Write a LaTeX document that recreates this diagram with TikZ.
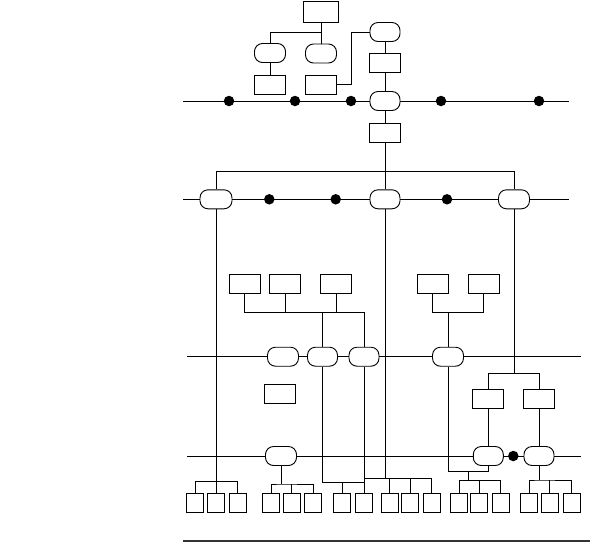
\documentclass[tikz,border=0pt]{standalone}
\usepackage{tikz}

\begin{document}
\begin{tikzpicture}[
  x=1pt, y=-1pt,
  every path/.style={line width=0.9pt},
  box/.style={draw, fill=white, minimum width=31pt, minimum height=19pt, inner sep=0pt},
  pill/.style={draw, fill=white, rounded corners=8pt, minimum width=31pt, minimum height=19pt, inner sep=0pt},
  leaf/.style={draw, fill=white, minimum width=17pt, minimum height=19pt, inner sep=0pt},
  dot/.style={circle, fill=black, inner sep=0pt, minimum size=10.5pt}
]
\useasboundingbox (0,0) rectangle (590,542);

% top part
\node[box, minimum width=35pt, minimum height=21pt] (top) at (321,11.5) {};
\node[pill] (p1) at (270,53) {};
\node[pill] (p2) at (321,53.5) {};
\node[box] (b1) at (270,84.7) {};
\node[box] (b2) at (321,84.5) {};
\node[pill, minimum width=30pt] (p3) at (385,32) {};
\node[box] (b3) at (385,63) {};

\coordinate (j0) at (321,32);
\coordinate (k0) at (351,32);
\draw (top) -- (p2);
\draw (j0) -| (p1.north);
\draw (p1) -- (b1);
\draw (b2.east) -| (k0) -- (p3.west);
\draw (p3) -- (b3);

% first bus
\coordinate (w1) at (183.3,101);
\coordinate (e1) at (569.3,101);
\node[pill, minimum width=30pt] (g1) at (385,101) {};
\node[box] (b4) at (385,133) {};
\draw (w1) -- (g1) -- (e1);
\draw (b3) -- (g1);
\draw (g1) -- (b4);
\foreach \x in {229,295,351,441,539}
  \node[dot] at (\x,101) {};

% second bus
\coordinate (w2) at (183.3,199.3);
\coordinate (e2) at (569.3,199.3);
\node[pill, minimum width=32pt] (h1) at (216,199.3) {};
\node[pill, minimum width=30pt] (h2) at (385,199.3) {};
\node[pill] (h3) at (514,199.3) {};
\draw (w2) -- (h1) -- (h2) -- (h3) -- (e2);
\foreach \x in {269.3,335.7,447}
  \node[dot] at (\x,199.3) {};

\coordinate (j2) at (385,171);
\draw (b4) -- (h2);
\draw (h1.north) -- (h1.north |- j2) -| (h3.north);

% middle boxes
\node[box] (m1) at (244.5,284) {};
\node[box] (m2) at (285,284) {};
\node[box] (m3) at (336,284) {};
\node[box] (m4) at (432.7,284) {};
\node[box] (m5) at (483.5,284) {};

% third bus
\coordinate (w3) at (187.3,356.7);
\coordinate (e3) at (580.7,356.7);
\node[pill] (k1) at (283,356.7) {};
\node[pill, minimum width=30pt] (k2) at (322.5,356.7) {};
\node[pill, minimum width=30pt] (k3) at (364,356.7) {};
\node[pill] (k4) at (448,356.7) {};
\draw (w3) -- (k1) -- (k2) -- (k3) -- (k4) -- (e3);

\coordinate (jm) at (364,312.3);
\coordinate (jn) at (448,312.3);
\draw (m1.south) |- (jm) -- (k3.north);
\draw (m2.south) -- (m2.south |- jm);
\draw (m3.south) -- (m3.south |- jm);
\draw (k2.north |- jm) -- (k2.north);
\draw (m4.south) |- (m5.south |- jn) -- (m5.south);
\draw (jn) -- (k4.north);

\node[box] (iso) at (280,393.5) {};

% right branch
\node[box] (r1) at (488.3,398.7) {};
\node[box] (r2) at (539,398.7) {};
\coordinate (jr) at (514,373.3);
\draw (h3.south) -- (jr);
\draw (r1.north) |- (jr) -| (r2.north);

% fourth bus
\coordinate (w4) at (187.3,456);
\coordinate (e4) at (580.7,456);
\node[pill] (q0) at (281,456) {};
\node[pill, minimum width=30pt] (q1) at (488.3,456) {};
\node[pill, minimum width=30pt] (q2) at (539,456) {};
\draw (w4) -- (q0) -- (q1) -- (q2) -- (e4);
\node[dot] at (513.3,456) {};
\draw (r1) -- (q1);
\draw (r2) -- (q2);

% leaves
\foreach \x [count=\i] in {195.3,216,237.7,271.3,291.8,313.3,342.3,364,389.8,410,431.8,459.2,479.2,500.7,529.3,549.7,571.5}
  \node[leaf] (lf\i) at (\x,503) {};

\coordinate (c1) at (216,481.7);
\coordinate (c2) at (281,484);
\coordinate (c3) at (364,482.7);
\coordinate (c4) at (385,478.3);
\coordinate (c5) at (468.3,471.7);
\coordinate (c5b) at (468.3,480.3);
\coordinate (c6) at (539,480);

\draw (h1.south) -- (lf2.north);
\draw (lf1.north) |- (c1) -| (lf3.north);

\draw (q0.south) -- (c2);
\draw (lf4.north) |- (c2) -| (lf6.north);
\draw (lf5.north) -- (lf5.north |- c2);

\draw (k2.south) |- (c3);
\draw (lf7.north) -- (lf7.north |- c3);
\draw (k3.south) -- (lf8.north);

\draw (h2.south) -- (c4);
\draw (k3.south |- c4) -| (lf11.north);
\draw (lf9.north) -- (lf9.north |- c4);
\draw (lf10.north) -- (lf10.north |- c4);

\draw (k4.south) |- (c5) -| (q1.south);
\draw (c5) -- (c5b);
\draw (lf12.north) |- (c5b) -| (lf14.north);
\draw (lf13.north) -- (lf13.north |- c5b);

\draw (q2.south) -- (c6);
\draw (lf15.north) |- (c6) -| (lf17.north);
\draw (lf16.north) -- (lf16.north |- c6);

% base line
\coordinate (bl) at (182.7,540.7);
\coordinate (br) at (590,540.7);
\draw[line width=1.6pt, black!80] (bl) -- (br);
\end{tikzpicture}
\end{document}
